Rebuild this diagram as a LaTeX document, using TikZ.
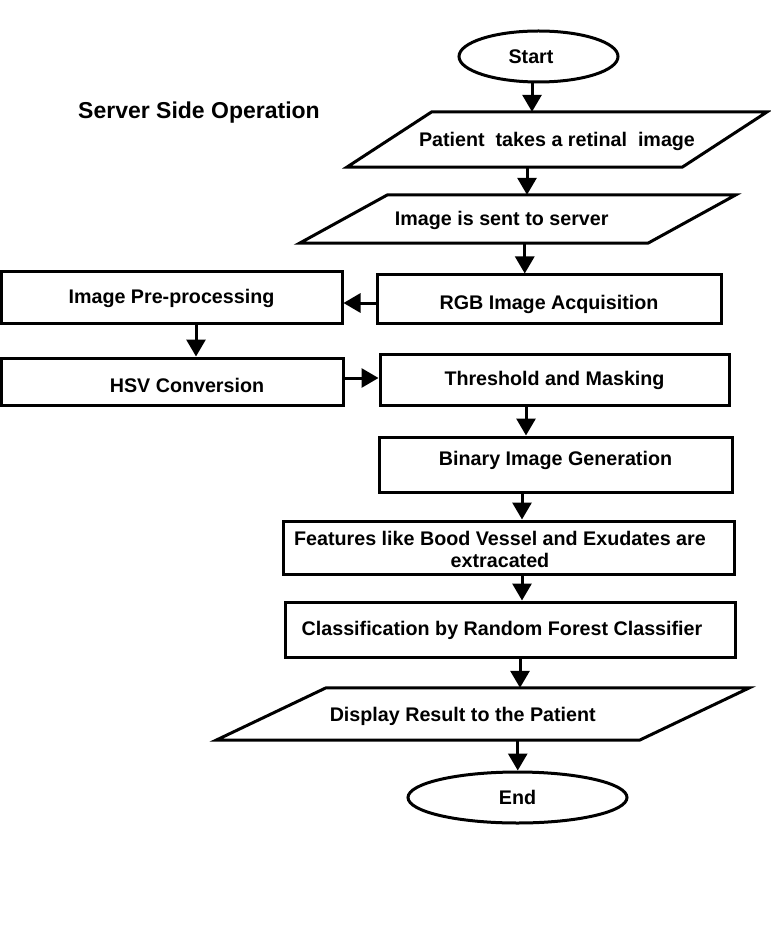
\documentclass[tikz,border=0pt]{standalone}
\usepackage{fontspec}
\setmainfont{Liberation Sans}
\usetikzlibrary{arrows.meta,shapes.geometric,calc}
\newcommand\dn[2]{\raisebox{-#1pt}[\height][\depth]{#2}}
\begin{document}
\begin{tikzpicture}[x=1pt,y=-1pt,
  font=\bfseries\fontsize{19.7}{22}\selectfont,
  box/.style={draw, rectangle, inner sep=0pt, line width=3pt, align=center},
  oval/.style={draw, ellipse, inner sep=0pt, line width=3pt},
  paratext/.style={rectangle, inner sep=0pt, align=center},
  paraline/.style={line width=3pt, line join=miter},
  arr/.style={-{Triangle[width=19pt,length=17pt]}, line width=3pt}]
\useasboundingbox (0,0) rectangle (770,949);

% title
\node (title) at (199,113) {\fontsize{23}{26}\selectfont Server Side Operation};

% nodes
\node[oval, minimum width=159pt, minimum height=51pt] (start) at (538.5,56.5) {\hspace*{-15pt}Start};
\node[paratext, minimum width=335pt, minimum height=55pt] (pat) at (557,139.5) {\dn{2}{Patient\ \ takes a retinal\ \ image}};
\node[paratext, minimum width=348pt, minimum height=48pt] (img) at (517.75,219) {\hspace*{-32pt}\dn{1}{Image is sent to server}};
\node[box, minimum width=344pt, minimum height=48pt] (rgb) at (549,299) {\dn{5}{RGB Image Acquisition}};
\node[box, minimum width=341pt, minimum height=51pt] (pre) at (171.5,297.5) {\dn{1}{Image Pre-processing}};
\node[box, minimum width=342pt, minimum height=47pt] (hsv) at (172,381.5) {\dn{3.5}{HSV Conversion}\hspace*{-30pt}};
\node[box, minimum width=349pt, minimum height=51pt] (thr) at (554.5,379.5) {\dn{1}{Threshold and Masking}};
\node[box, minimum width=353pt, minimum height=55pt] (bin) at (555.5,464.5) {\dn{-4}{Binary Image Generation}};
\node[box, minimum width=451pt, minimum height=53pt] (feat) at (508.5,547.5) {\hspace*{-17pt}\dn{2}{Features like Bood Vessel and Exudates are}\\\hspace*{-17pt}\dn{2}{extracated}};
\node[box, minimum width=450pt, minimum height=55pt] (cls) at (510,629.5) {\hspace*{-16pt}\dn{1}{Classification by Random Forest Classifier}};
\node[paratext, minimum width=423pt, minimum height=52pt] (disp) at (482.75,714) {\hspace*{-40pt}\dn{2}{Display Result to the Patient}};
\node[oval, minimum width=219pt, minimum height=51pt] (end) at (517.5,797.5) {End};

% parallelogram outlines
\draw[paraline] ([xshift=42.5pt]pat.north west) -- ([xshift=42.5pt]pat.north east)
  -- ([xshift=-42.5pt]pat.south east) -- ([xshift=-42.5pt]pat.south west) -- cycle;
\draw[paraline] ([xshift=44pt]img.north west) -- ([xshift=44pt]img.north east)
  -- ([xshift=-44pt]img.south east) -- ([xshift=-44pt]img.south west) -- cycle;
\draw[paraline] ([xshift=55pt]disp.north west) -- ([xshift=55pt]disp.north east)
  -- ([xshift=-55pt]disp.south east) -- ([xshift=-55pt]disp.south west) -- cycle;

% connectors
\draw[arr] ([xshift=-6.5pt]start.south) -- ([xshift=-6.5pt]start.south |- pat.north);
\draw[arr] ([xshift=-30pt]pat.south) -- ([xshift=-30pt]pat.south |- img.north);
\draw[arr] ([xshift=7pt]img.south) -- ([xshift=7pt]img.south |- rgb.north);
\draw[arr] ([yshift=-4pt]rgb.west) -- ([yshift=-4pt]rgb.west -| pre.east);
\draw[arr] ([xshift=24.5pt]pre.south) -- ([xshift=24.5pt]pre.south |- hsv.north);
\draw[arr] ([yshift=3.5pt]hsv.east) -- ([yshift=3.5pt]hsv.east -| thr.west);
\draw[arr] ([xshift=-28.5pt]thr.south) -- ([xshift=-28.5pt]thr.south |- bin.north);
\draw[arr] ([xshift=-33.5pt]bin.south) -- ([xshift=-33.5pt]bin.south |- feat.north);
\draw[arr] ([xshift=13.5pt]feat.south) -- ([xshift=13.5pt]feat.south |- cls.north);
\draw[arr] ([xshift=10pt]cls.south) -- ([xshift=10pt]cls.south |- disp.north);
\draw[arr] ([xshift=35pt]disp.south) -- ([xshift=35pt]disp.south |- end.north);
\end{tikzpicture}
\end{document}
